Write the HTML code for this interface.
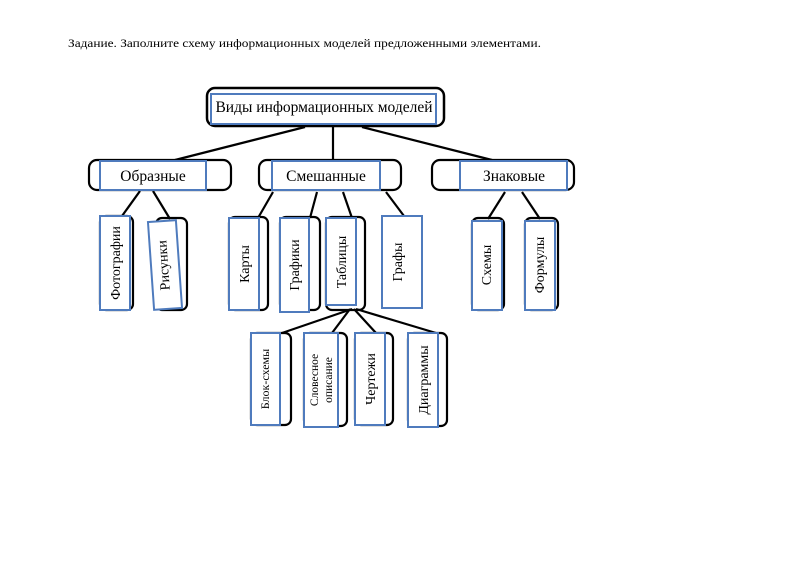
<!DOCTYPE html>
<html><head><meta charset="utf-8"><style>
body{margin:0;background:#fff;width:800px;height:565px;overflow:hidden}
svg{display:block}
text{font-family:"Liberation Serif","DejaVu Serif",serif;fill:#000}
</style></head><body>
<svg width="800" height="565" viewBox="0 0 800 565">
<text x="68" y="47" font-size="12" textLength="473" lengthAdjust="spacingAndGlyphs">Задание. Заполните схему информационных моделей предложенными элементами.</text>
<g stroke="#000" stroke-width="2.2" fill="none">
<line x1="305" y1="127" x2="175" y2="160"/>
<line x1="333" y1="127" x2="333" y2="160"/>
<line x1="362" y1="127" x2="492" y2="160"/>
<line x1="140" y1="191" x2="122" y2="216"/>
<line x1="153" y1="191" x2="170" y2="219"/>
<line x1="273" y1="192" x2="258" y2="218"/>
<line x1="317" y1="192" x2="310" y2="218"/>
<line x1="343" y1="192" x2="352" y2="218"/>
<line x1="386" y1="192" x2="404" y2="216"/>
<line x1="505" y1="192" x2="488" y2="219"/>
<line x1="522" y1="192" x2="540" y2="219"/>
<line x1="352" y1="309" x2="282" y2="333"/>
<line x1="350" y1="309" x2="332" y2="333"/>
<line x1="354" y1="309" x2="376" y2="333"/>
<line x1="356" y1="309" x2="436" y2="333"/>
<rect x="207" y="88" width="237" height="38" rx="8" stroke-width="2.5"/>
<rect x="89" y="160" width="142" height="30" rx="8"/>
<rect x="259" y="160" width="142" height="30" rx="8"/>
<rect x="432" y="160" width="142" height="30" rx="8"/>
<rect x="100" y="216" width="33" height="94" rx="6"/>
<rect x="156" y="218" width="31" height="92" rx="6"/>
<rect x="229" y="217" width="39" height="93" rx="6"/>
<rect x="280" y="217" width="40" height="93" rx="6"/>
<rect x="326" y="217" width="39" height="93" rx="6"/>
<rect x="472" y="218" width="32" height="92" rx="6"/>
<rect x="525" y="218" width="33" height="92" rx="6"/>
<rect x="251" y="333" width="40" height="92" rx="6"/>
<rect x="304" y="333" width="43" height="93" rx="6"/>
<rect x="355" y="333" width="38" height="92" rx="6"/>
<rect x="408" y="333" width="39" height="93" rx="6"/>
</g>
<g stroke="#4f7bbd" stroke-width="2" fill="#fff">
<rect x="211" y="94" width="225" height="30"/>
<rect x="100" y="161" width="106" height="29"/>
<rect x="272" y="161" width="108" height="29"/>
<rect x="460" y="161" width="107" height="29"/>
<rect x="100" y="216" width="30" height="94"/>
<rect x="151" y="221" width="28" height="88" transform="rotate(-4 165 265)"/>
<rect x="229" y="218" width="30" height="92"/>
<rect x="280" y="218" width="29" height="94"/>
<rect x="326" y="218" width="30" height="87"/>
<rect x="382" y="216" width="40" height="92"/>
<rect x="472" y="221" width="30" height="89"/>
<rect x="525" y="221" width="30" height="89"/>
<rect x="251" y="333" width="29" height="92"/>
<rect x="304" y="333" width="34" height="94"/>
<rect x="355" y="333" width="30" height="92"/>
<rect x="408" y="333" width="30" height="94"/>
</g>
<g font-size="15.5" text-anchor="middle">
<text x="324" y="112">Виды информационных моделей</text>
<text x="153" y="181">Образные</text>
<text x="326" y="181">Смешанные</text>
<text x="514" y="181">Знаковые</text>
</g>
<g font-size="14" text-anchor="middle">
<text transform="translate(120,263) rotate(-90)">Фотографии</text>
<text transform="translate(168,265) rotate(-94)">Рисунки</text>
<text transform="translate(249,264) rotate(-90)">Карты</text>
<text transform="translate(299,265) rotate(-90)">Графики</text>
<text transform="translate(346,262) rotate(-90)">Таблицы</text>
<text transform="translate(402,262) rotate(-90)">Графы</text>
<text transform="translate(491,265) rotate(-90)">Схемы</text>
<text transform="translate(544,265) rotate(-90)">Формулы</text>
<text transform="translate(269,379) rotate(-90)" font-size="12">Блок-схемы</text>
<text transform="translate(318,380) rotate(-90)" font-size="11.5">Словесное</text>
<text transform="translate(332,380) rotate(-90)" font-size="11.5">описание</text>
<text transform="translate(375,379) rotate(-90)">Чертежи</text>
<text transform="translate(428,380) rotate(-90)">Диаграммы</text>
</g>
</svg>
</body></html>
